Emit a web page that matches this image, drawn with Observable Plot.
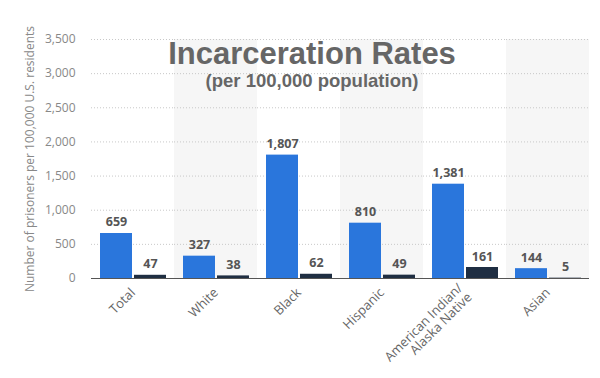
<!DOCTYPE html>
<html>
<head>
<meta charset="utf-8">
<script src="https://cdn.jsdelivr.net/npm/d3@7"></script>
<script src="https://cdn.jsdelivr.net/npm/@observablehq/plot@0.6"></script>
<style>
  body { margin: 0; background: #fff; }
  #wrap { position: relative; width: 600px; height: 378px; }
  #title { position: absolute; left: 0; width: 624px; top: 37px; text-align: center;
    font-family: "Liberation Sans", Arial, sans-serif; font-weight: bold; color: #666;
    font-size: 31px; line-height: 34px; }
  #subtitle { position: absolute; left: 0; width: 624px; top: 70px; text-align: center;
    font-family: "Liberation Sans", Arial, sans-serif; font-weight: bold; color: #666;
    font-size: 18.5px; line-height: 22px; }
</style>
</head>
<body>
<div id="wrap">
  <div id="chart"></div>
  <div id="title">Incarceration Rates</div>
  <div id="subtitle">(per 100,000 population)</div>
</div>
<script>
const groups = ["Total", "White", "Black", "Hispanic", "American Indian/\nAlaska Native", "Asian"];
const series = ["Series A", "Series B"];
const seriesAValues = [659, 327, 1807, 810, 1381, 144];
const seriesBValues = [47, 38, 62, 49, 161, 5];
const shadedGroups = ["White", "Hispanic", "Asian"];
const yTicks = [0, 500, 1000, 1500, 2000, 2500, 3000, 3500];
const yLabel = "Number of prisoners per 100,000 U.S. residents";

const rows = [];
groups.forEach((g, i) => {
  rows.push({group: g, series: series[0], value: seriesAValues[i]});
  rows.push({group: g, series: series[1], value: seriesBValues[i]});
});
const fmt = v => v.toLocaleString("en-US");

const chart = Plot.plot({
  width: 600,
  height: 378,
  marginLeft: 91,
  marginRight: 11,
  marginTop: 39,
  marginBottom: 100,
  style: {fontFamily: "'Open Sans', sans-serif", background: "#fff"},
  y: {domain: [0, 3500]},
  fx: {domain: groups, padding: 0},
  x: {domain: series, paddingInner: 0.06, paddingOuter: 0.25, axis: null},
  color: {domain: series, range: ["#2a76dc", "#1f2e42"]},
  marks: [
    Plot.barY(shadedGroups, {fx: d => d, y1: 0, y2: 3500, fill: "#f6f6f6"}),
    Plot.ruleY(yTicks.slice(1), {stroke: "#c8c8c8", strokeDasharray: "1,2"}),
    Plot.barY(rows, {fx: "group", x: "series", y: "value", fill: "series"}),
    Plot.ruleY([0], {stroke: "#555", strokeWidth: 1}),
    Plot.text(rows, {fx: "group", x: "series", y: "value", text: d => fmt(d.value),
      dy: -11, fontWeight: "bold", fill: "#555", fontSize: 12.5}),
    Plot.axisY({ticks: yTicks, tickSize: 0, tickPadding: 16, tickFormat: fmt, fill: "#888", fontSize: 12,
      label: yLabel, labelAnchor: "center", labelOffset: 66, labelArrow: "none"}),
    Plot.axisFx({anchor: "bottom", tickRotate: -45, tickSize: 0, tickPadding: 12, fill: "#666", fontSize: 13, label: null})
  ]
});
document.getElementById("chart").appendChild(chart);
</script>
</body>
</html>
